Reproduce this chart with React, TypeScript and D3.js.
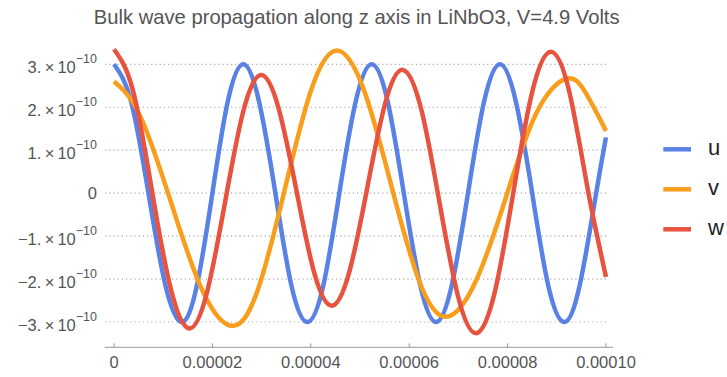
import React from "react";
import * as d3 from "d3";

const W = 727;
const H = 377;

const title = "Bulk wave propagation along z axis in LiNbO3, V=4.9 Volts";

// x in units of 1e-5, y in units of 1e-10
const uX = [0, 0.35, 0.7, 1.04, 1.376, 1.69, 2.0, 2.31, 2.628, 2.95, 3.28, 3.6, 3.929, 4.26, 4.58, 4.91, 5.238, 5.565, 5.89, 6.22, 6.545, 6.87, 7.195, 7.52, 7.846, 8.17, 8.5, 8.82, 9.146, 9.47, 9.8, 10.0];
const uY = [3.0, 2.12, 0, -2.12, -3.0, -2.12, 0, 2.12, 3.0, 2.12, 0, -2.12, -3.0, -2.12, 0, 2.12, 3.0, 2.12, 0, -2.12, -3.0, -2.12, 0, 2.12, 3.0, 2.12, 0, -2.12, -3.0, -2.12, 0, 1.3];

const vX = [0, 0.531, 1.163, 1.794, 2.425, 2.95, 3.476, 4.001, 4.526, 5.077, 5.627, 6.178, 6.728, 7.346, 7.965, 8.583, 9.201, 9.6, 10.0];
const vY = [2.6, 1.8, -0.23, -2.26, -3.09, -2.16, 0.11, 2.38, 3.32, 2.41, 0.22, -1.97, -2.88, -2.07, -0.1, 1.86, 2.67, 2.31, 1.45];

const wX = [0, 0.383, 0.765, 1.148, 1.53, 1.895, 2.259, 2.624, 2.988, 3.347, 3.707, 4.066, 4.425, 4.786, 5.147, 5.507, 5.868, 6.241, 6.613, 6.986, 7.358, 7.738, 8.117, 8.497, 8.876, 9.256, 9.636, 10.0];
const wY = [3.35, 2.4, 0.1, -2.2, -3.15, -2.29, -0.2, 1.89, 2.75, 1.97, 0.07, -1.84, -2.62, -1.82, 0.12, 2.07, 2.87, 1.97, -0.2, -2.37, -3.26, -2.31, 0.02, 2.34, 3.29, 2.35, 0.05, -1.95];

const seriesNames = ["u", "v", "w"];
const seriesColors = ["#5a81e6", "#f99d1c", "#e8533f"];

const xTickValues = [0, 2, 4, 6, 8, 10];
const xTickLabels = ["0", "0.00002", "0.00004", "0.00006", "0.00008", "0.00010"];
const yTickValues = [-3, -2, -1, 0, 1, 2, 3];
const yTickMantissas = ["\u22123.", "\u22122.", "\u22121.", "0", "1.", "2.", "3."];

export default function App() {
  const x = d3.scaleLinear().domain([0, 10]).range([114, 606]);
  const y = d3.scaleLinear().domain([-3, 3]).range([322, 64.3]);
  const line = d3
    .line<[number, number]>()
    .x((d) => x(d[0]))
    .y((d) => y(d[1]))
    .curve(d3.curveNatural);

  const series = [
    uX.map((v, i) => [v, uY[i]] as [number, number]),
    vX.map((v, i) => [v, vY[i]] as [number, number]),
    wX.map((v, i) => [v, wY[i]] as [number, number]),
  ];

  const font = "'Liberation Sans', Arial, Helvetica, sans-serif";
  const axisY = 347.3;

  return (
    <svg
      width={W}
      height={H}
      style={{ position: "absolute", left: 0, top: 0, background: "#fff" }}
      fontFamily={font}
    >
      <text x={356.7} y={24} textAnchor="middle" fontSize={20.2} fill="#555">
        {title}
      </text>

      {yTickValues.map((t) => (
        <line
          key={"g" + t}
          x1={105}
          x2={609}
          y1={y(t)}
          y2={y(t)}
          stroke="#aaa"
          strokeWidth={1.2}
          strokeDasharray="1.2,3"
        />
      ))}

      {yTickValues.map((t, i) =>
        t === 0 ? (
          <text key={"yl" + t} x={97} y={y(t) + 6} textAnchor="end" fontSize={16.5} fill="#555">
            0
          </text>
        ) : (
          <text key={"yl" + t} x={97} y={y(t) + 8.5} textAnchor="end" fontSize={16.5} fill="#555">
            <tspan>{yTickMantissas[i]}</tspan>
            <tspan dx={3.5}>{"\u00d7"}</tspan>
            <tspan dx={3}>10</tspan>
            <tspan dy={-10} fontSize={12.5}>
              {"\u221210"}
            </tspan>
          </text>
        )
      )}

      <line x1={104.7} x2={613} y1={axisY} y2={axisY} stroke="#999" strokeWidth={1} />
      {xTickValues.map((t, i) => (
        <g key={"xt" + t}>
          <line x1={x(t)} x2={x(t)} y1={axisY} y2={axisY - 4} stroke="#999" strokeWidth={1} />
          <text x={x(t)} y={368.3} textAnchor="middle" fontSize={16.5} fill="#555">
            {xTickLabels[i]}
          </text>
        </g>
      ))}

      {series.map((s, i) => (
        <path
          key={"s" + i}
          d={line(s) || ""}
          fill="none"
          stroke={seriesColors[i]}
          strokeWidth={4.5}
        />
      ))}

      {seriesNames.map((n, i) => (
        <g key={"lg" + n}>
          <line
            x1={663.3}
            x2={691}
            y1={149.3 + i * 40}
            y2={149.3 + i * 40}
            stroke={seriesColors[i]}
            strokeWidth={4.5}
          />
          <text x={708} y={149.3 + i * 40 + 5.8} fontSize={22} fill="#222">
            {n}
          </text>
        </g>
      ))}
    </svg>
  );
}
